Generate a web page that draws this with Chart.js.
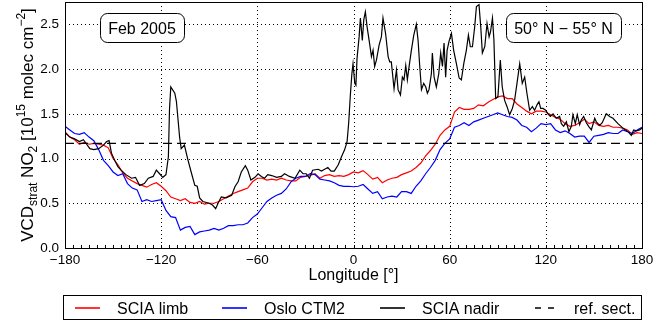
<!DOCTYPE html>
<html>
<head>
<meta charset="utf-8">
<title>Stratospheric NO2 along 50-55N</title>
<script src="https://cdn.jsdelivr.net/npm/chart.js@4.4.1/dist/chart.umd.min.js"></script>
<style>
  html, body { margin: 0; padding: 0; background: #fff; }
  canvas { display: block; }
</style>
</head>
<body>
<canvas id="no2Chart" width="668" height="323"></canvas>
<script>
// longitude grid shared by limb and CTM curves (3 deg steps)
const gridLon = [
  -180, -177, -174, -171, -168, -165, -162, -159, -156, -153, -150, -147, -144, -141, -138, -135,
  -132, -129, -126, -123, -120, -117, -114, -111, -108, -105, -102, -99, -96, -93, -90, -87,
  -84, -81, -78, -75, -72, -69, -66, -63, -60, -57, -54, -51, -48, -45, -42, -39,
  -36, -33, -30, -27, -24, -21, -18, -15, -12, -9, -6, -3, 0, 3,
  6, 9, 12, 15, 18, 21, 24, 27, 30, 33, 36, 39, 42, 45, 48, 51,
  54, 57, 60, 63, 66, 69, 72, 75, 78, 81, 84, 87, 90, 93, 96, 99,
  102, 105, 108, 111, 114, 117, 120, 123, 126, 129, 132, 135, 138, 141, 144, 147,
  150, 153, 156, 159, 162, 165, 168, 171, 174, 177, 180
]

const sciaLimb = [
  1.30, 1.24, 1.21, 1.16, 1.18, 1.16, 1.17, 1.16, 1.15, 1.12, 1.00, 0.93, 0.84, 0.78, 0.75, 0.72,
  0.70, 0.68, 0.71, 0.73, 0.69, 0.64, 0.57, 0.55, 0.53, 0.55, 0.51, 0.50, 0.52, 0.49, 0.50, 0.50,
  0.52, 0.55, 0.58, 0.61, 0.63, 0.65, 0.67, 0.74, 0.78, 0.78, 0.76, 0.77, 0.76, 0.78, 0.76, 0.75,
  0.75, 0.79, 0.80, 0.81, 0.83, 0.78, 0.81, 0.82, 0.80, 0.81, 0.80, 0.82, 0.85, 0.84,
  0.865, 0.82, 0.77, 0.79, 0.73, 0.76, 0.78, 0.79, 0.82, 0.84, 0.86, 0.90, 0.95, 1.03, 1.09, 1.16,
  1.26, 1.32, 1.36, 1.52, 1.57, 1.55, 1.55, 1.56, 1.60, 1.59, 1.63, 1.66, 1.69, 1.70, 1.67, 1.67,
  1.61, 1.57, 1.53, 1.50, 1.53, 1.53, 1.52, 1.49, 1.46, 1.44, 1.39, 1.36, 1.37, 1.40, 1.44, 1.39,
  1.41, 1.37, 1.36, 1.37, 1.35, 1.35, 1.34, 1.32, 1.27, 1.29, 1.28
]

const osloCtm2 = [
  1.36, 1.32, 1.28, 1.27, 1.29, 1.24, 1.20, 1.10, 0.98, 0.92, 0.85, 0.81, 0.83, 0.72, 0.67, 0.65,
  0.52, 0.54, 0.52, 0.53, 0.54, 0.42, 0.35, 0.34, 0.20, 0.23, 0.24, 0.15, 0.18, 0.19, 0.20, 0.22,
  0.20, 0.22, 0.25, 0.25, 0.26, 0.26, 0.28, 0.34, 0.38, 0.45, 0.52, 0.56, 0.59, 0.61, 0.66, 0.74,
  0.78, 0.80, 0.80, 0.83, 0.82, 0.77, 0.76, 0.75, 0.73, 0.70, 0.69, 0.69, 0.685, 0.69,
  0.71, 0.66, 0.61, 0.63, 0.55, 0.57, 0.58, 0.57, 0.63, 0.63, 0.61, 0.69, 0.75, 0.83, 0.90, 0.98,
  1.10, 1.17, 1.22, 1.35, 1.37, 1.40, 1.37, 1.41, 1.43, 1.45, 1.47, 1.49, 1.51, 1.49, 1.47, 1.46,
  1.43, 1.37, 1.35, 1.30, 1.34, 1.39, 1.38, 1.39, 1.32, 1.29, 1.31, 1.28, 1.24, 1.25, 1.25, 1.18,
  1.25, 1.26, 1.27, 1.29, 1.28, 1.28, 1.32, 1.30, 1.28, 1.32, 1.35
]

// nadir retrieval is much noisier, so it gets its own denser longitudes
const nadirLon = [
  -180, -177, -174, -171, -168.5, -166.5, -164.5, -162, -159, -156, -154, -152.5, -151, -149, -147, -145,
  -142, -138.5, -136, -133.5, -130.5, -128, -125, -123, -121, -119, -117, -115.5, -114.8, -114, -111.5, -110.5,
  -108.5, -107.5, -105.5, -103.5, -101, -99, -97.5, -96, -94, -90, -88, -86, -84.5, -82.5, -79.5, -76,
  -74, -72, -70, -67.5, -66, -64, -61.5, -59.5, -57.5, -55.5, -53.5, -51, -48, -45, -43, -40,
  -36.5, -33.5, -31.5, -29.5, -27.5, -25.5, -22, -20, -18, -16, -14, -12, -9.5, -7.5, -5.5, -4,
  -3, -2, -1, -0.3, 0.8, 1.5, 2.2, 3.5, 4.3, 5.5, 6.4, 7.4, 8.5, 10, 11.2, 12.2,
  13.2, 14.3, 16, 17.4, 18.4, 20, 21.6, 22.6, 23.6, 25.3, 26.8, 27.8, 29.3, 30.5, 31.5, 32.6,
  33.6, 34.7, 36.1, 37.6, 39.2, 40.3, 41.3, 42.4, 43.8, 45.1, 46.1, 47.1, 48.6, 49.2, 50.3, 51.7,
  53.2, 54.4, 55.5, 56.5, 57.5, 58.4, 59.6, 61.1, 62.5, 64.2, 65.9, 67.3, 68.8, 70.4, 71.7, 72.9,
  74.2, 75.6, 76.7, 78.3, 79.4, 80.4, 81.9, 83.3, 84.6, 85.5, 86.7, 87.6, 88.7, 90.1, 91.6, 92.8,
  94.3, 95.8, 97.4, 99.1, 100.5, 102, 103.7, 105.3, 106.8, 108.2, 109.9, 111.6, 113, 114.5, 115.7, 116.8,
  118.2, 119.9, 121.3, 122.8, 124.5, 126.5, 128.6, 129.7, 131.1, 132.8, 134.4, 135.9, 136.9, 138.4, 139.6, 141.1,
  142.1, 143.6, 145.3, 146.7, 148.4, 150.5, 151.5, 153.6, 155.2, 157.7, 159.8, 161.9, 165, 168.1, 171.3, 173.3,
  174.8, 176.5, 178.5, 180
]

const sciaNadir = [
  1.29, 1.24, 1.22, 1.19, 1.21, 1.16, 1.11, 1.10, 1.11, 1.15, 1.19, 1.20, 1.06, 0.98, 0.91, 0.87,
  0.82, 0.78, 0.79, 0.70, 0.72, 0.78, 0.80, 0.87, 0.83, 0.79, 0.82, 1.02, 1.55, 1.80, 1.73, 1.64,
  1.24, 1.11, 1.15, 1.00, 0.83, 0.70, 0.69, 0.56, 0.52, 0.50, 0.48, 0.44, 0.50, 0.57, 0.56, 0.59,
  0.685, 0.74, 0.85, 0.92, 0.87, 0.76, 0.79, 0.83, 0.80, 0.78, 0.82, 0.81, 0.79, 0.80, 0.83, 0.80,
  0.78, 0.87, 0.83, 0.83, 0.78, 0.87, 0.88, 0.86, 0.88, 0.90, 0.86, 0.86, 0.93, 1.02, 1.10, 1.19,
  1.40, 1.70, 1.95, 2.06, 1.84, 1.82, 2.12, 2.36, 2.57, 2.32, 2.55, 2.64, 2.47, 2.29, 2.14, 2.21,
  2.03, 2.10, 2.27, 2.36, 2.57, 2.40, 2.14, 2.08, 2.08, 1.78, 1.99, 1.77, 1.71, 1.91, 1.88, 2.04,
  1.88, 2.03, 2.21, 2.38, 2.50, 2.32, 2.04, 1.77, 1.84, 1.80, 1.73, 1.77, 1.95, 2.18, 1.91, 1.80,
  1.95, 2.18, 2.03, 2.29, 1.91, 2.21, 2.31, 2.40, 2.21, 2.06, 1.90, 1.88, 2.06, 2.21, 2.38, 2.25,
  2.25, 2.47, 2.70, 2.72, 2.47, 2.18, 2.25, 2.51, 2.36, 2.42, 2.57, 2.33, 1.67, 1.69, 2.10, 1.80,
  1.65, 1.58, 1.49, 1.56, 1.65, 1.84, 2.06, 1.84, 1.91, 1.73, 1.54, 1.58, 1.54, 1.60, 1.635, 1.56,
  1.56, 1.54, 1.50, 1.47, 1.50, 1.45, 1.47, 1.39, 1.36, 1.41, 1.30, 1.36, 1.49, 1.39, 1.49, 1.38,
  1.43, 1.47, 1.40, 1.36, 1.32, 1.45, 1.41, 1.37, 1.40, 1.50, 1.47, 1.45, 1.39, 1.34, 1.30, 1.26,
  1.32, 1.31, 1.32, 1.34
]

// reference sector level
const refLon = [-180, 180]
const refVcd = [1.17, 1.17]

const lonTicks = [-180, -120, -60, 0, 60, 120, 180]
const vcdTicks = [0, 0.5, 1.0, 1.5, 2.0, 2.5]

const FONT = '"Liberation Sans", Arial, Helvetica, sans-serif'

function toPoints(xs, ys) {
  return xs.map((x, i) => ({x: x, y: ys[i]}))
}

/** dotted grid behind the curves */
const dottedGrid = {
  id: 'dottedGrid',
  beforeDatasetsDraw(chart) {
    const {ctx, chartArea: a, scales: {x, y}} = chart
    ctx.save()
    ctx.strokeStyle = '#000'
    ctx.lineWidth = 1
    ctx.setLineDash([1, 3])
    lonTicks.forEach(v => {
      if (v <= -180 || v >= 180) return
      const px = Math.round(x.getPixelForValue(v)) + 0.5
      ctx.beginPath()
      ctx.moveTo(px, a.top)
      ctx.lineTo(px, a.bottom)
      ctx.stroke()
    })
    vcdTicks.forEach(v => {
      if (v <= 0) return
      const py = Math.round(y.getPixelForValue(v)) + 0.5
      ctx.beginPath()
      ctx.moveTo(a.left, py)
      ctx.lineTo(a.right, py)
      ctx.stroke()
    })
    ctx.restore()
  }
}

/** axes frame, minor ticks, titles, boxes and legend */
const decorations = {
  id: 'decorations',
  afterDraw(chart) {
    const {ctx, chartArea: a, scales: {x}} = chart
    ctx.save()

    // frame
    ctx.strokeStyle = '#000'
    ctx.lineWidth = 1
    ctx.strokeRect(Math.round(a.left) + 0.5, Math.round(a.top) + 0.5,
      Math.round(a.right - a.left), Math.round(a.bottom - a.top))

    // minor ticks on the longitude axis
    ctx.beginPath()
    for (let lon = -175; lon < 180; lon += 5) {
      const px = Math.round(x.getPixelForValue(lon)) + 0.5
      ctx.moveTo(px, a.bottom)
      ctx.lineTo(px, a.bottom - 3)
    }
    ctx.stroke()

    ctx.fillStyle = '#000'
    ctx.textBaseline = 'alphabetic'

    // x title
    ctx.font = `16px ${FONT}`
    ctx.textAlign = 'center'
    ctx.fillText('Longitude [\u00B0]', (a.left + a.right) / 2, 280)

    // y title with sub/superscripts, drawn rotated
    const parts = [
      {t: 'VCD', s: 17, dy: 0},
      {t: 'strat', s: 12, dy: 4},
      {t: ' NO', s: 17, dy: 0},
      {t: '2', s: 12, dy: 4},
      {t: ' [10', s: 17, dy: 0},
      {t: '15', s: 12, dy: -8},
      {t: ' molec cm', s: 17, dy: 0},
      {t: '\u22122', s: 12, dy: -8},
      {t: ']', s: 17, dy: 0}
    ]
    let total = 0
    parts.forEach(p => {
      ctx.font = `${p.s}px ${FONT}`
      p.w = ctx.measureText(p.t).width
      total += p.w
    })
    ctx.translate(33, (a.top + a.bottom) / 2)
    ctx.rotate(-Math.PI / 2)
    ctx.textAlign = 'left'
    let cx = -total / 2
    parts.forEach(p => {
      ctx.font = `${p.s}px ${FONT}`
      ctx.fillText(p.t, cx, p.dy)
      cx += p.w
    })
    ctx.setTransform(1, 0, 0, 1, 0, 0)

    // annotation boxes
    const boxes = [
      {text: 'Feb 2005', x: a.left + 35, w: 84},
      {text: '50\u00B0 N \u2212 55\u00B0 N', x: a.right - 136, w: 115}
    ]
    ctx.font = `16px ${FONT}`
    boxes.forEach(b => {
      ctx.beginPath()
      ctx.roundRect(b.x + 0.5, a.top + 11.5, b.w, 29, 7)
      ctx.fillStyle = '#fff'
      ctx.fill()
      ctx.strokeStyle = '#000'
      ctx.lineWidth = 1
      ctx.stroke()
      ctx.fillStyle = '#000'
      ctx.textAlign = 'center'
      ctx.fillText(b.text, b.x + b.w / 2, a.top + 32)
    })

    // legend
    ctx.lineWidth = 1
    ctx.strokeStyle = '#000'
    ctx.strokeRect(63.5, 295.5, 578, 24)
    const items = [
      {label: 'SCIA limb', color: '#ff0000', x0: 75, x1: 100, tx: 117, dash: []},
      {label: 'Oslo CTM2', color: '#0000ff', x0: 222, x1: 247, tx: 264, dash: []},
      {label: 'SCIA nadir', color: '#000000', x0: 380, x1: 405, tx: 422, dash: []},
      {label: 'ref. sect.', color: '#000000', x0: 535, x1: 554, tx: 574, dash: [6, 7]}
    ]
    ctx.textAlign = 'left'
    ctx.font = `16px ${FONT}`
    items.forEach(it => {
      ctx.strokeStyle = it.color
      ctx.lineWidth = 1.6
      ctx.setLineDash(it.dash)
      ctx.beginPath()
      ctx.moveTo(it.x0, 308)
      ctx.lineTo(it.x1, 308)
      ctx.stroke()
      ctx.setLineDash([])
      ctx.fillStyle = '#000'
      ctx.fillText(it.label, it.tx, 314)
    })

    ctx.restore()
  }
}

const ctx = document.getElementById('no2Chart').getContext('2d')
new Chart(ctx, {
  type: 'line',
  data: {
    datasets: [
      {label: 'SCIA limb', data: toPoints(gridLon, sciaLimb), borderColor: '#ff0000', order: 4},
      {label: 'Oslo CTM2', data: toPoints(gridLon, osloCtm2), borderColor: '#0000ff', order: 3},
      {label: 'SCIA nadir', data: toPoints(nadirLon, sciaNadir), borderColor: '#000000', order: 2},
      {label: 'ref. sect.', data: toPoints(refLon, refVcd), borderColor: '#000000',
        borderDash: [9, 5], borderWidth: 1.4, order: 1}
    ]
  },
  options: {
    responsive: false,
    animation: false,
    devicePixelRatio: 1,
    layout: {padding: {top: 2, right: 26, left: 0, bottom: 0}},
    elements: {
      line: {borderWidth: 1.2, tension: 0, fill: false},
      point: {radius: 0, hoverRadius: 0}
    },
    plugins: {legend: {display: false}, tooltip: {enabled: false}},
    scales: {
      x: {
        type: 'linear',
        min: -180,
        max: 180,
        afterBuildTicks: s => { s.ticks = lonTicks.map(v => ({value: v})) },
        afterFit: s => { s.height = 75; s.paddingLeft = 0; s.paddingRight = 0 },
        grid: {display: false, drawTicks: false},
        border: {display: false},
        ticks: {
          color: '#000',
          padding: 4,
          maxRotation: 0,
          font: {family: FONT, size: 13.5},
          callback: v => String(v).replace('-', '\u2212')
        }
      },
      y: {
        type: 'linear',
        min: 0,
        max: 2.75,
        afterBuildTicks: s => { s.ticks = vcdTicks.map(v => ({value: v})) },
        afterFit: s => { s.width = 65; s.paddingTop = 0; s.paddingBottom = 0 },
        grid: {display: false, drawTicks: false},
        border: {display: false},
        ticks: {
          color: '#000',
          padding: 6,
          font: {family: FONT, size: 13.5},
          callback: v => v.toFixed(1)
        }
      }
    }
  },
  plugins: [dottedGrid, decorations]
})
</script>
</body>
</html>
